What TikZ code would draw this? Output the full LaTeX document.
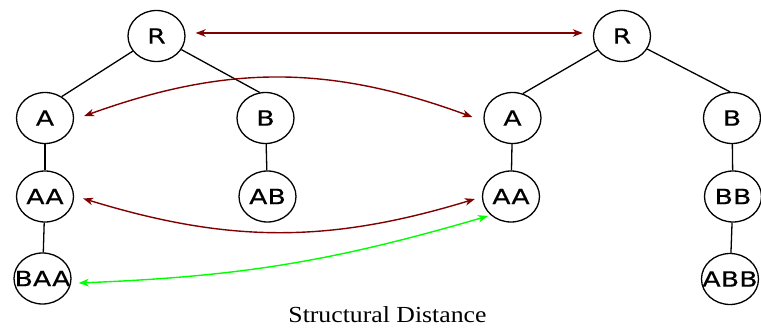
\documentclass[tikz,border=0pt]{standalone}
\usepackage{fontspec}
\setmainfont{Liberation Serif}
\newfontfamily\nodefont[FakeBold=0.2]{DejaVu Sans}
\usetikzlibrary{arrows.meta,shapes.geometric}
\definecolor{maroonarrow}{RGB}{128,0,0}
\definecolor{greenarrow}{RGB}{0,255,0}
\newcommand{\nt}[1]{\makebox[0pt][c]{\scalebox{1.28}[1]{\fontsize{21}{23}\selectfont\nodefont #1}}}
\tikzset{
  tnode/.style={draw=black, ellipse, line width=1.3pt, minimum width=57pt, minimum height=51pt, inner sep=0pt},
  tedge/.style={draw=black, line width=1.3pt},
  cmp/.style={line width=1.4pt, {Stealth[length=10pt,width=7.5pt,inset=3pt]}-{Stealth[length=10pt,width=7.5pt,inset=3pt]}},
}
\begin{document}
\begin{tikzpicture}[x=1pt,y=1pt]
\useasboundingbox (0,0) rectangle (761,-329);
% left tree
\node[tnode] (R1) at (156.5,-36) {\nt{R}};
\node[tnode] (A1) at (45,-118) {\nt{A}};
\node[tnode] (B1) at (265.5,-118) {\nt{B}};
\node[tnode] (AA1) at (45,-196.5) {\nt{AA}};
\node[tnode] (AB1) at (267.5,-196.5) {\nt{AB}};
\node[tnode] (BAA1) at (42.5,-278.5) {\nt{BAA}};
% right tree
\node[tnode] (R2) at (622,-36) {\nt{R}};
\node[tnode] (A2) at (512.5,-118) {\nt{A}};
\node[tnode] (B2) at (732,-118) {\nt{B}};
\node[tnode] (AA2) at (511,-196.5) {\nt{AA}};
\node[tnode] (BB2) at (733,-196.5) {\nt{BB}};
\node[tnode] (ABB2) at (730,-279) {\nt{ABB}};
% tree edges
\draw[tedge] (R1) -- (A1.52);
\draw[tedge] (R1) -- (B1.103);
\draw[tedge] (A1) -- (AA1);
\draw[tedge] (B1) -- (AB1);
\draw[tedge] (AA1) -- (BAA1);
\draw[tedge] (R2) -- (A2.67);
\draw[tedge] (R2) -- (B2.94);
\draw[tedge] (A2) -- (AA2);
\draw[tedge] (B2) -- (BB2);
\draw[tedge] (BB2) -- (ABB2);
% comparison arrows
\draw[cmp, maroonarrow] ([xshift=10pt,yshift=3pt]R1.east) -- ([xshift=-10pt,yshift=3pt]R2.west);
\draw[cmp, maroonarrow] ([xshift=10pt,yshift=2pt]A1.east) to[bend left=20] ([xshift=-11pt,yshift=1pt]A2.west);
\draw[cmp, maroonarrow] ([xshift=9pt,yshift=-2pt]AA1.east) to[bend right=17] ([xshift=-7pt,yshift=-2.5pt]AA2.west);
\draw[cmp, greenarrow] ([xshift=7pt,yshift=-4.5pt]BAA1.east) to[bend right=7] ([xshift=-23pt,yshift=-19.5pt]AA2.center);
% caption
\node[anchor=base, inner sep=0pt] (cap) at (387.5,-322.5) {\scalebox{1.12}[1]{\fontsize{23}{26}\selectfont Structural Distance}};
\end{tikzpicture}
\end{document}
